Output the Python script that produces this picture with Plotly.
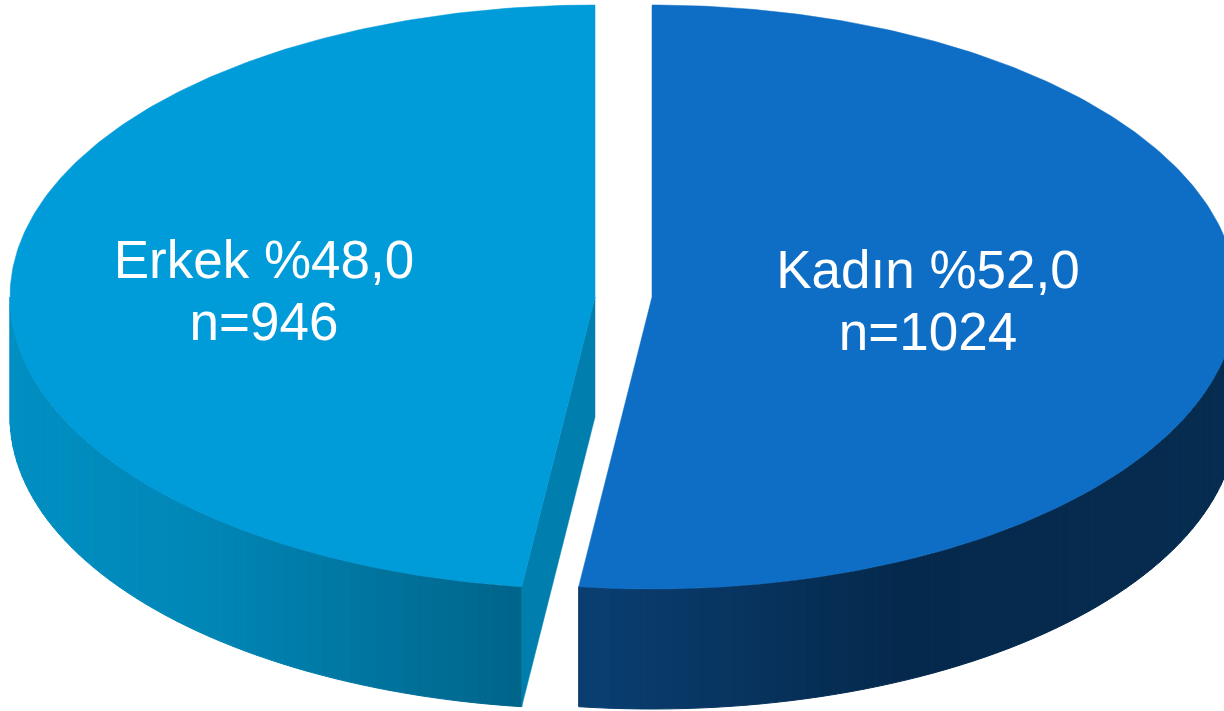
import numpy as np
import plotly.graph_objects as go

# Data
labels = ["Kadın", "Erkek"]
shares = [52.0, 48.0]
counts = [1024, 946]

# Drawing set-up
W, H = 1224, 711
centers = [(652, 297), (595, 297)]
RX, RY, DEPTH = 585, 292, 120
top_colors = ["#0E6EC5", "#009BD9"]
cut_color = "#007FAE"
side_stops = [
    [(580, (10, 62, 114)), (900, (5, 41, 77)), (1224, (6, 44, 80))],
    [(10, (0, 143, 194)), (200, (0, 135, 183)), (522, (0, 100, 138))],
]
label_pos = [(928, 275, 337), (264, 265, 327)]

def ell(c, t):
    r = np.radians(t)
    return c[0] + RX * np.sin(r), c[1] - RY * np.cos(r)

def side_color(stops, x):
    xs = [s[0] for s in stops]
    rgb = [np.interp(x, xs, [s[1][i] for s in stops]) for i in range(3)]
    return "rgb(%d,%d,%d)" % tuple(int(round(v)) for v in rgb)

fig = go.Figure()

def poly(xs, ys, color, line=1):
    fig.add_trace(go.Scatter(
        x=list(xs), y=list(ys), mode="lines", fill="toself", fillcolor=color,
        line=dict(color=color, width=line), hoverinfo="skip", showlegend=False))

split = 360 * shares[0] / sum(shares)
spans = [(0.0, split), (split, 360.0)]

for i, (c, (t0, t1)) in enumerate(zip(centers, spans)):
    # outer side wall, in narrow strips for the gradient
    v0, v1 = max(t0, 90), min(t1, 270)
    edges = np.linspace(v0, v1, int((v1 - v0) / 1.5) + 2)
    for a, b in zip(edges[:-1], edges[1:]):
        xa, ya = ell(c, a)
        xb, yb = ell(c, b)
        poly([xa, xb, xb, xa, xa], [ya, yb, yb + DEPTH, ya + DEPTH, ya],
             side_color(side_stops[i], (xa + xb) / 2))
    # cut face visible on the left-hand slice
    if i == 1:
        xe, ye = ell(c, t0)
        poly([c[0], xe, xe, c[0], c[0]],
             [c[1], ye, ye + DEPTH, c[1] + DEPTH, c[1]], cut_color, 0.5)
    # top face
    ts = np.linspace(t0, t1, 240)
    px, py = ell(c, ts)
    poly(np.r_[c[0], px, c[0]], np.r_[c[1], py, c[1]], top_colors[i], 0.5)

for lab, sh, n, (x, y1, y2) in zip(labels, shares, counts, label_pos):
    fig.add_trace(go.Scatter(
        x=[x, x], y=[y1, y2], mode="text",
        text=[f"{lab} %{sh:.1f}".replace(".", ","), f"n={n}"],
        textposition="middle center",
        textfont=dict(family="Liberation Sans, Arial", size=53, color="white"),
        hoverinfo="skip", showlegend=False))

fig.update_layout(
    width=W, height=H, margin=dict(l=0, r=0, t=0, b=0),
    paper_bgcolor="white", plot_bgcolor="white", showlegend=False,
    xaxis=dict(range=[0, W], visible=False, fixedrange=True),
    yaxis=dict(range=[H, 0], visible=False, fixedrange=True),
)
fig.write_html("out.html", config={"displayModeBar": False},
               post_script="document.body.style.margin='0';document.body.style.overflow='hidden';")
